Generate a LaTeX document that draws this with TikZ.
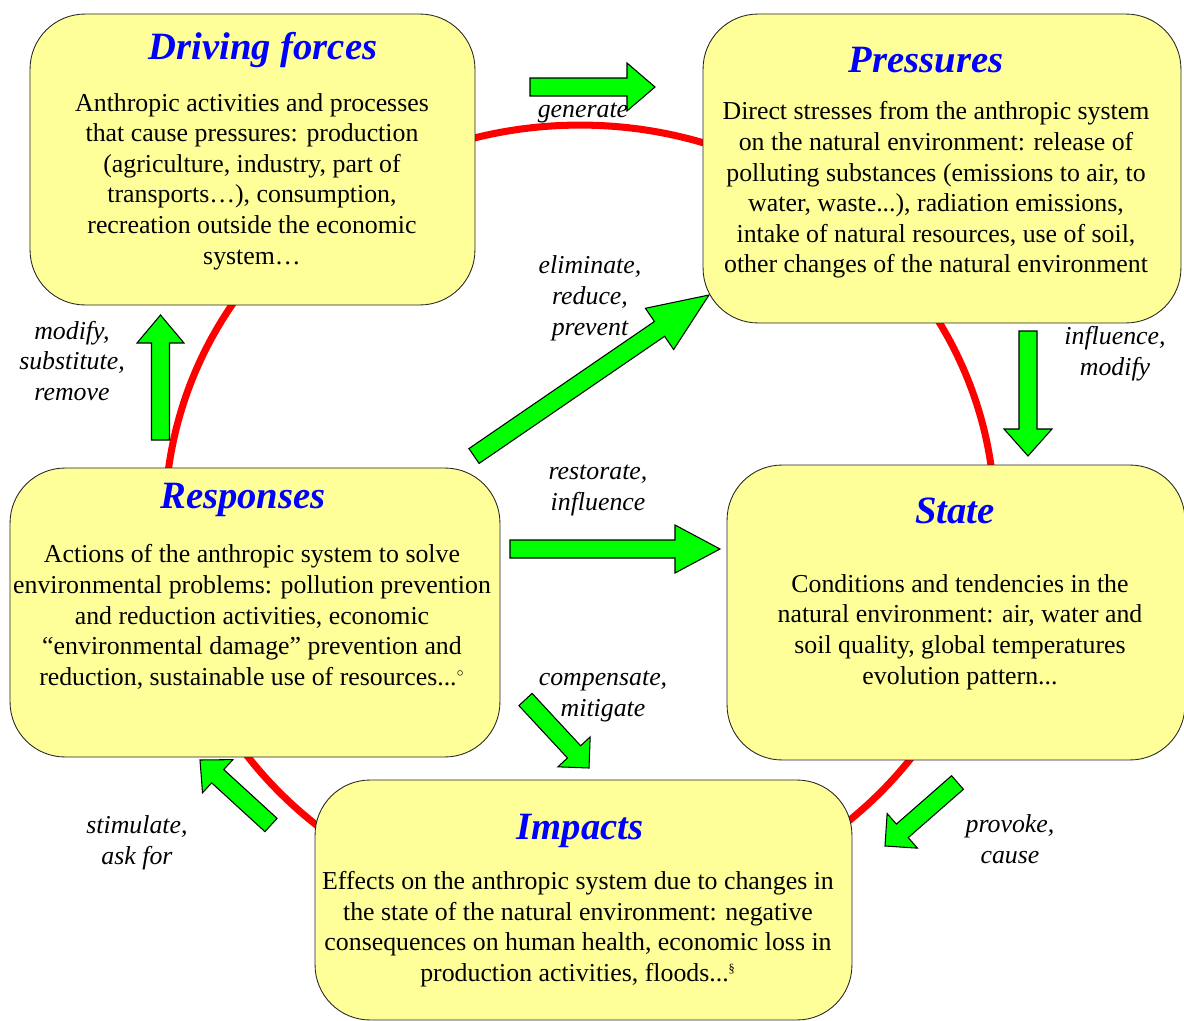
\documentclass[tikz,border=0pt]{standalone}
\usepackage{fontspec}
\setmainfont{Liberation Serif}
\usetikzlibrary{calc}
\definecolor{boxyellow}{RGB}{255, 255, 153}
\definecolor{ringred}{RGB}{255, 0, 0}
\definecolor{arrowgreen}{RGB}{0, 255, 0}
\definecolor{titleblue}{RGB}{0, 0, 255}

% block arrow: tail, tip, head length, head half width
\newcommand{\fatarrow}[4]{%
    \coordinate (hb) at ($(#2)!#3!(#1)$);
    \draw[greenarrow] ($(#1)!0.18cm!90:(#2)$) -- ($(hb)!0.18cm!90:(#2)$) -- ($(hb)!#4!90:(#2)$)
        -- (#2) -- ($(hb)!#4!-90:(#2)$) -- ($(hb)!0.18cm!-90:(#2)$) -- ($(#1)!0.18cm!-90:(#2)$) -- cycle;
}

\begin{document}
\begin{tikzpicture}[
    x=0.02cm, y=-0.02cm,
    box/.style={rectangle, draw=black!85, fill=boxyellow, line width=0.5pt, rounded corners=1.1cm},
    title/.style={font=\fontsize{22}{26}\selectfont\bfseries\itshape, text=titleblue, inner sep=0pt},
    body/.style={font=\fontsize{14.7}{17.4}\selectfont, align=center, inner sep=0pt},
    verb/.style={font=\fontsize{14.7}{17.6}\selectfont\itshape, align=center, inner sep=0pt},
    greenarrow/.style={fill=arrowgreen, draw=black, line width=0.6pt, line join=miter},
    ring/.style={draw=ringred, line width=4pt}
]
    \useasboundingbox (0,0) rectangle (1184,1021);

    % red cycle behind the boxes
    \draw[ring] (580,520) ellipse [x radius=8.3cm, y radius=7.9cm];

    % Driving forces
    \node[box, minimum width=8.9cm, minimum height=5.82cm] (drv) at (252.5,159.5) {};
    \node[title] (drvtitle) at (263,50) {Driving forces};
    \node[body] (drvtext) at (252,181.5) {
        Anthropic activities and processes\\
        that cause pressures: production\\
        (agriculture, industry, part of\\
        transports…), consumption,\\
        recreation outside the economic\\
        system…
    };

    % Pressures
    \node[box, minimum width=9.56cm, minimum height=6.18cm] (prs) at (942,168.5) {};
    \node[title] (prstitle) at (926,60) {Pressures};
    \node[body] (prstext) at (936,190) {
        Direct stresses from the anthropic system\\
        on the natural environment: release of\\
        polluting substances (emissions to air, to\\
        water, waste...), radiation emissions,\\
        intake of natural resources, use of soil,\\
        other changes of the natural environment
    };

    % Responses
    \node[box, minimum width=9.8cm, minimum height=5.78cm] (rsp) at (255,612.5) {};
    \node[title] (rsptitle) at (243,500) {Responses};
    \node[body] (rsptext) at (252,617) {
        Actions of the anthropic system to solve\\
        environmental problems: pollution prevention\\
        and reduction activities, economic\\
        “environmental damage” prevention and\\
        reduction, sustainable use of resources...\textsuperscript{\scriptsize$\circ$}
    };

    % State
    \node[box, minimum width=9.16cm, minimum height=5.9cm] (sta) at (956,612.5) {};
    \node[title] (statitle) at (955,511) {State};
    \node[body] (statext) at (960,632) {
        Conditions and tendencies in the\\
        natural environment: air, water and\\
        soil quality, global temperatures\\
        evolution pattern...
    };

    % Impacts
    \node[box, minimum width=10.74cm, minimum height=4.8cm] (imp) at (583.5,900) {};
    \node[title] (imptitle) at (580,831) {Impacts};
    \node[body] (imptext) at (578,929) {
        Effects on the anthropic system due to changes in\\
        the state of the natural environment: negative\\
        consequences on human health, economic loss in\\
        production activities, floods...\textsuperscript{\scriptsize\S}
    };

    % arrow ends
    \coordinate (gentail) at (530,87);      \coordinate (gentip) at (655,87);
    \coordinate (elimtail) at (474,456);    \coordinate (elimtip) at (709,295);
    \coordinate (modtail) at (160.5,440);   \coordinate (modtip) at (160.5,315);
    \coordinate (infltail) at (1028,331);   \coordinate (infltip) at (1028,456);
    \coordinate (resttail) at (510,549);    \coordinate (resttip) at (720,549);
    \coordinate (comptail) at (525.5,699.5);\coordinate (comptip) at (589,768);
    \coordinate (stimtail) at (271,825);    \coordinate (stimtip) at (200,760);
    \coordinate (provtail) at (957.5,782.5);\coordinate (provtip) at (885,846);

    % green arrows
    \fatarrow{gentail}{gentip}{0.56cm}{0.48cm}
    \fatarrow{elimtail}{elimtip}{1.2cm}{0.5cm}
    \fatarrow{modtail}{modtip}{0.56cm}{0.47cm}
    \fatarrow{infltail}{infltip}{0.54cm}{0.48cm}
    \fatarrow{resttail}{resttip}{0.9cm}{0.48cm}
    \fatarrow{comptail}{comptip}{0.44cm}{0.44cm}
    \fatarrow{stimtail}{stimtip}{0.48cm}{0.45cm}
    \fatarrow{provtail}{provtip}{0.46cm}{0.46cm}

    % labels
    \node[verb] (gen) at (583,113) {generate};
    \node[verb] (elim) at (590,298) {eliminate,\\reduce,\\prevent};
    \node[verb] (mod) at (72,361) {modify,\\substitute,\\remove};
    \node[verb] (infl) at (1115,354) {influence,\\modify};
    \node[verb] (rest) at (598,490.5) {restorate,\\influence};
    \node[verb] (comp) at (603,696.5) {compensate,\\mitigate};
    \node[verb] (stim) at (137,843) {stimulate,\\ask for};
    \node[verb] (prov) at (1010,839.5) {provoke,\\cause};
\end{tikzpicture}
\end{document}
